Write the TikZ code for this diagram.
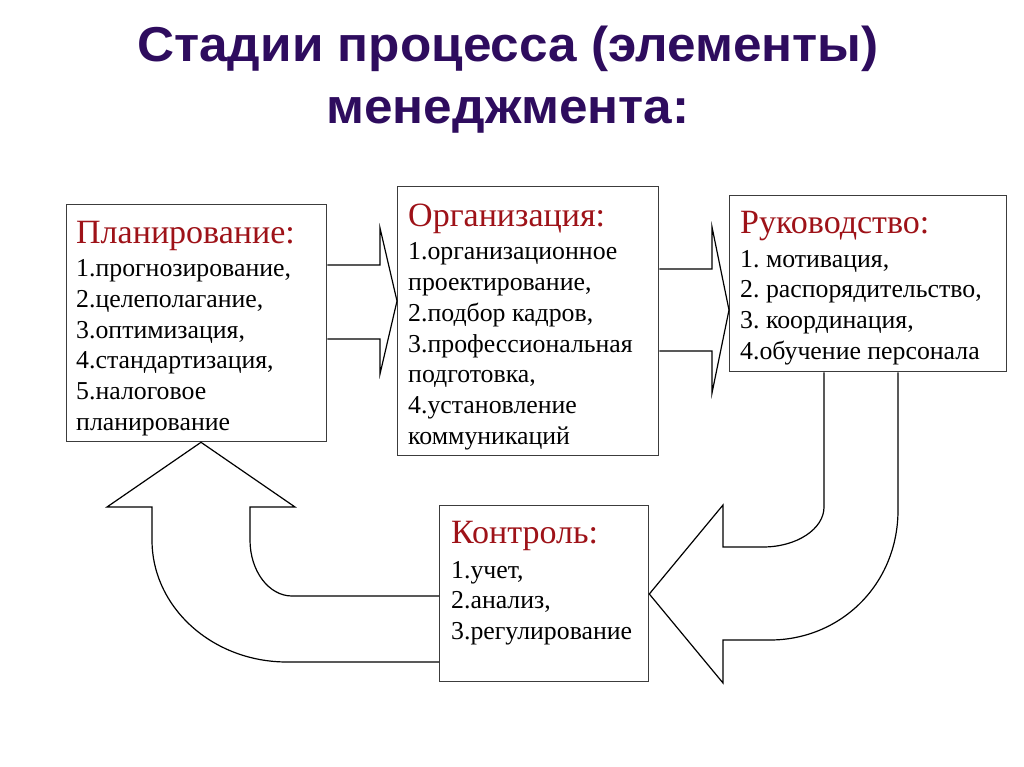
\documentclass[tikz,border=0pt]{standalone}
\usepackage{fontspec}
\setmainfont{Liberation Serif}
\newfontfamily\titlefont{Liberation Sans}
\definecolor{ttl}{RGB}{46,12,94}
\definecolor{hdr}{RGB}{158,18,24}
\definecolor{boxc}{RGB}{60,60,60}
\newcommand{\hd}{\fontsize{34}{30.7}\selectfont\color{hdr}}
\frenchspacing
\begin{document}
\begin{tikzpicture}[x=1pt,y=-1pt,
  box/.style={draw=boxc, line width=1.3pt, inner sep=0pt, anchor=north west},
  txt/.style={anchor=north west, inner sep=0pt, align=left, font=\rmfamily\fontsize{25.8}{30.7}\selectfont},
  blk/.style={draw=black, line width=1.2pt, line join=miter},
  ttlstyle/.style={anchor=north, inner sep=0pt, align=center, text=ttl, xscale=1.047,
    font=\titlefont\bfseries\fontsize{49}{62.5}\selectfont}]
\useasboundingbox (0,0) rectangle (1024,767);
\fill[white] (0,0) rectangle (1024,767);

\node[ttlstyle] (title) at (508,25.5) {Стадии процесса (элементы)\\менеджмента:};

\node[box, minimum width=260pt, minimum height=237pt] (plan) at (66,204) {};
\node[box, minimum width=261pt, minimum height=269pt] (org) at (397,186) {};
\node[box, minimum width=277pt, minimum height=176pt] (ruk) at (729,195) {};
\node[box, minimum width=209pt, minimum height=176pt] (ctrl) at (439,505) {};

\node[txt] (plantxt) at (76,221) {{\hd Планирование:}\\[2.5pt]1.прогнозирование,\\2.целеполагание,\\3.оптимизация,\\4.стандартизация,\\5.налоговое\\планирование};
\node[txt] (orgtxt) at (408,204) {{\hd Организация:}\\[2.5pt]1.организационное\\проектирование,\\2.подбор кадров,\\3.профессиональная\\подготовка,\\4.установление\\коммуникаций};
\node[txt] (ruktxt) at (740,211) {{\hd Руководство:}\\[3pt]1. мотивация,\\2. распорядительство,\\3. координация,\\4.обучение персонала};
\node[txt] (ctrltxt) at (451,521) {{\hd Контроль:}\\[4pt]1.учет,\\2.анализ,\\3.регулирование};

% block arrow planning -> organization
\draw[blk] (plan.east |- 0,265) -- (380,265) -- (380,228) -- (org.west |- 0,301)
  -- (380,374) -- (380,339) -- (plan.east |- 0,339);
% block arrow organization -> leadership
\draw[blk] (org.east |- 0,269) -- (712,269) -- (712,227) -- (ruk.west |- 0,310)
  -- (712,393) -- (712,351) -- (org.east |- 0,351);
% curved arrow leadership -> control
\draw[blk] (824,0 |- ruk.south) -- (824,507) .. controls (824,529) and (796.7,547) .. (763,547)
  -- (723,547) -- (723,505) -- (ctrl.east |- 0,594) -- (723,683) -- (723,640) -- (770,640)
  .. controls (840,640) and (898,585) .. (898,510) -- (898,0 |- ruk.south);
% curved arrow control -> planning
\draw[blk] (ctrl.west |- 0,596) -- (292,596) .. controls (268.8,596) and (250,571) .. (250,540)
  -- (250,507) -- (295,507) -- (201,0 |- plan.south) -- (107,507) -- (152,507) -- (152,540)
  .. controls (152,607.4) and (212.4,662) .. (287,662) -- (ctrl.west |- 0,662);
\end{tikzpicture}
\end{document}
